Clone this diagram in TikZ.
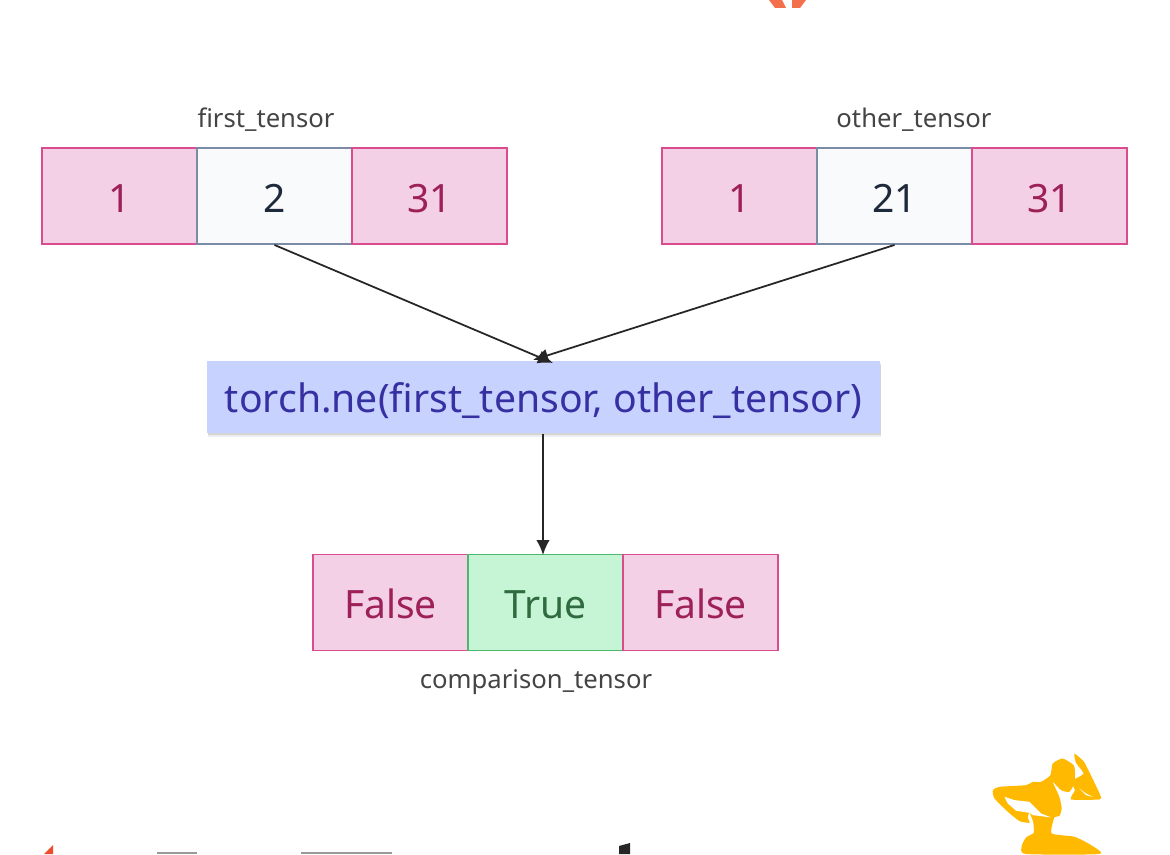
\documentclass[tikz,border=0pt]{standalone}
\usepackage{fontspec}
\setmainfont{Noto Sans}
\usetikzlibrary{arrows.meta,shadows}
\definecolor{pinkfill}{HTML}{F4D0E7}
\definecolor{pinkline}{HTML}{DB4C8E}
\definecolor{pinktext}{HTML}{9D2058}
\definecolor{grayfill}{HTML}{F8FAFC}
\definecolor{grayline}{HTML}{7A8BA5}
\definecolor{graytext}{HTML}{1E293B}
\definecolor{greenfill}{HTML}{C6F5D5}
\definecolor{greenline}{HTML}{4CB86C}
\definecolor{greentext}{HTML}{2F6B3F}
\definecolor{bluefill}{HTML}{C7D2FE}
\definecolor{bluetext}{HTML}{3730A3}
\definecolor{lbl}{HTML}{444444}
\definecolor{logoorange}{HTML}{F4704D}
\definecolor{logored}{HTML}{EE4C2C}
\definecolor{logoyellow}{HTML}{FFB900}
\tikzset{
  cell/.style={draw,line width=0.55pt,minimum width=1.55cm,minimum height=0.96cm,inner sep=0pt,text height=0.36cm,text depth=0.04cm,font=\fontsize{11.1}{13}\selectfont},
  pinkcell/.style={cell,fill=pinkfill,draw=pinkline,text=pinktext},
  graycell/.style={cell,fill=grayfill,draw=grayline,text=graytext},
  greencell/.style={cell,fill=greenfill,draw=greenline,text=greentext},
  lblnode/.style={text=lbl,inner sep=0pt,font=\fontsize{7.3}{9}\selectfont},
  funcbox/.style={fill=bluefill,text=bluetext,minimum width=6.73cm,minimum height=0.72cm,inner sep=0pt,text height=0.39cm,text depth=0.09cm,font=\fontsize{11.15}{13}\selectfont,
    general shadow={shadow xshift=0.2pt,shadow yshift=-1.2pt,fill=black,opacity=0.07},
    general shadow={shadow xshift=0.2pt,shadow yshift=-0.6pt,fill=black,opacity=0.1}},
  arr/.style={line width=0.5pt,black!85,-{Latex[length=1.5mm,width=1.35mm]}}
}
\begin{document}
\begin{tikzpicture}
\useasboundingbox (0,0) rectangle (11.7,8.54);
% labels
\node[lblnode] (firstlbl) at (2.66,7.34) {first\_tensor};
\node[lblnode] (otherlbl) at (9.14,7.34) {other\_tensor};
\node[lblnode] (complbl) at (5.36,1.72) {comparison\_tensor};
% first tensor
\node[pinkcell] (f0) at (1.195,6.58) {1};
\node[graycell] (f1) at (2.745,6.58) {2};
\node[pinkcell] (f2) at (4.295,6.58) {31};
% other tensor
\node[pinkcell] (o0) at (7.395,6.58) {1};
\node[graycell] (o1) at (8.945,6.58) {21};
\node[pinkcell] (o2) at (10.495,6.58) {31};
% function
\node[funcbox] (func) at (5.435,4.57) {torch.ne(first\_tensor, other\_tensor)};
% result
\node[pinkcell] (r0) at (3.905,2.515) {False};
\node[greencell] (r1) at (5.455,2.515) {True};
\node[pinkcell] (r2) at (7.005,2.515) {False};
% arrows
\coordinate (fin) at (5.53,4.91);
\coordinate (oin) at (5.33,4.94);
\coordinate (rin) at (5.43,2.99);
\draw[arr] (f1.south) -- (fin);
\draw[arr] (o1.south) -- (oin);
\draw[arr] (func.south -| rin) -- (rin);
% logo scraps
\fill[logoorange] (7.69,8.54) -- (7.82,8.54) -- (7.86,8.46) -- (7.75,8.46) -- cycle;
\fill[logoorange] (8.06,8.54) -- (7.92,8.54) -- (7.92,8.46) -- (8.00,8.46) -- cycle;
\fill[logored] (0.44,0) -- (0.53,0.09) -- (0.53,0) -- cycle;
\fill[black!40] (1.57,0) rectangle (1.97,0.02);
\fill[black!40] (3.01,0) rectangle (3.92,0.02);
\fill[black!85] (6.19,0) -- (6.19,0.08) -- (6.30,0.11) -- (6.30,0) -- cycle;
% figure, scaled from the crop
\begin{scope}[x=0.00333cm,y=-0.00333cm,shift={(2880,-342)}]
\fill[logoyellow] plot[smooth cycle,tension=0.35] coordinates {
 (205,342) (192,318) (205,292) (228,278) (226,245) (215,218) (210,232) (215,248)
 (185,243) (150,215) (110,175) (105,150) (125,140) (205,135) (225,125) (250,125)
 (278,105) (285,70) (315,55) (348,75) (352,100) (350,130) (335,155) (310,150)
 (285,125) (305,170) (312,205) (305,228) (290,232) (282,280) (350,290) (400,315) (425,342)
};
\fill[logoyellow] plot[smooth cycle,tension=0.3] coordinates {
 (340,178) (425,178) (428,165) (385,75) (375,60) (350,40) (355,68) (378,100)
 (350,118) (345,135) (352,150)
};
\fill[white] (140,170) -- (170,180) -- (215,185) -- (250,220) -- (280,232) -- (225,225) -- (215,218) -- (175,212) -- (150,190) -- cycle;
\fill[white] (365,145) -- (385,165) -- (405,170) -- (385,160) -- cycle;
\end{scope}
\end{tikzpicture}
\end{document}
